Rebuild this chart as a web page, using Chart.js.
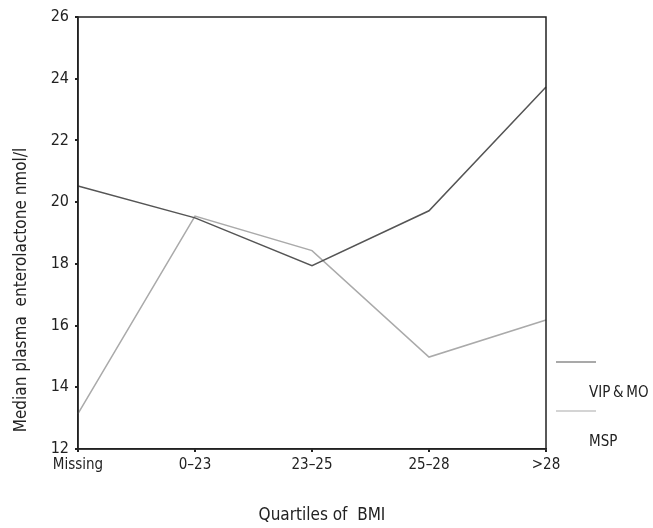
<!DOCTYPE html>
<html>
<head>
<meta charset="utf-8">
<script src="https://cdn.jsdelivr.net/npm/chart.js@4"></script>
<style>
  html, body { margin: 0; padding: 0; background: #fff; }
  #wrap { width: 653px; height: 528px; }
</style>
</head>
<body>
<div id="wrap"><canvas id="mainChart"></canvas></div>
<script>
const categories = ['Missing', '0\u201323', '23\u201325', '25\u201328', '>28'];
const vipMo = [20.52, 19.49, 17.94, 19.72, 23.73];
const msp = [13.15, 19.55, 18.43, 14.98, 16.18];
const yTicks = [12, 14, 16, 18, 20, 22, 24, 26];

const FONT = "'DejaVu Sans Condensed', 'Liberation Sans Narrow', sans-serif";
const ctx = document.getElementById('mainChart').getContext('2d');

// marco, títulos y leyenda a mano
const extras = {
    id: 'extras',
    afterDraw(chart) {
        const c = chart.ctx, a = chart.chartArea;
        c.save();
        c.strokeStyle = '#222';
        c.lineWidth = 1.5;
        c.strokeRect(a.left, a.top, a.right - a.left, a.bottom - a.top);

        c.fillStyle = '#222';
        c.font = '17px ' + FONT;
        c.textAlign = 'center';
        c.textBaseline = 'middle';
        c.save();
        c.translate(22, 290);
        c.rotate(-Math.PI / 2);
        c.fillText('Median plasma  enterolactone nmol/l', 0, 0);
        c.restore();
        c.fillText('Quartiles of  BMI', 322, 516);

        // leyenda
        c.font = '15px ' + FONT;
        c.textAlign = 'left';
        chart.data.datasets.forEach((ds, i) => {
            const y = 362 + i * 49;
            c.strokeStyle = ds.borderColor;
            c.lineWidth = 1.2;
            c.beginPath();
            c.moveTo(556, y);
            c.lineTo(596, y);
            c.stroke();
            c.fillStyle = '#222';
            c.fillText(ds.label, 589, y + 31);
        });
        c.restore();
    }
};

new Chart(ctx, {
    type: 'line',
    data: {
        labels: categories,
        datasets: [{
            label: 'VIP\u2009&\u2009MO',
            data: vipMo,
            borderColor: '#555',
            borderWidth: 1.5,
            pointRadius: 0,
            tension: 0
        }, {
            label: 'MSP',
            data: msp,
            borderColor: '#aaa',
            borderWidth: 1.5,
            pointRadius: 0,
            tension: 0
        }]
    },
    options: {
        responsive: true,
        maintainAspectRatio: false,
        animation: false,
        layout: { padding: { top: 17, right: 107, left: 0, bottom: 0 } },
        plugins: { legend: { display: false }, tooltip: { enabled: false } },
        scales: {
            y: {
                min: 12,
                max: 26,
                afterFit(s) { s.width = 78; },
                afterBuildTicks(s) { s.ticks = yTicks.map(v => ({ value: v })); },
                grid: { drawOnChartArea: false, tickLength: 3, color: '#222', lineWidth: 2 },
                border: { color: '#222', width: 1.5 },
                ticks: { color: '#222', padding: 6, font: { size: 16, family: FONT } }
            },
            x: {
                afterFit(s) { s.height = 79; },
                grid: { drawOnChartArea: false, tickLength: 3, color: '#222', lineWidth: 2 },
                border: { color: '#222', width: 1.5 },
                ticks: { color: '#222', padding: 4, maxRotation: 0, font: { size: 15, family: FONT } }
            }
        }
    },
    plugins: [extras]
});
</script>
</body>
</html>
